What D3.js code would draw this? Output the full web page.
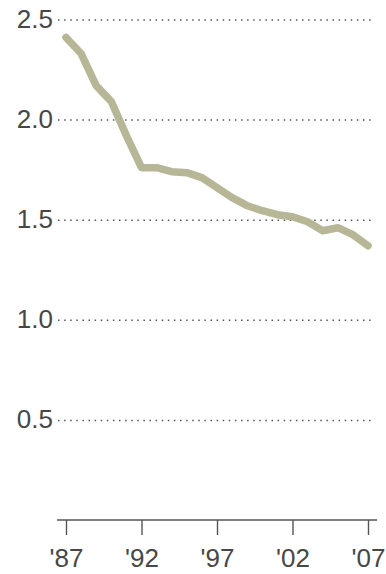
<!DOCTYPE html>
<html>
<head>
  <script src="https://cdn.jsdelivr.net/npm/d3@7"></script>
  <style>
    body { margin: 0; background: #fff; }
  </style>
</head>
<body>
  <svg width="386" height="574" id="mainsvg"></svg>
  <script>
    // data
    const years = [1987, 1988, 1989, 1990, 1991, 1992, 1993, 1994, 1995, 1996, 1997,
                   1998, 1999, 2000, 2001, 2002, 2003, 2004, 2005, 2006, 2007];
    const values = [2.41, 2.33, 2.17, 2.09, 1.92, 1.76, 1.76, 1.74, 1.735, 1.71, 1.66,
                    1.61, 1.57, 1.545, 1.525, 1.515, 1.49, 1.445, 1.46, 1.425, 1.37];
    const yTicks = [0.5, 1.0, 1.5, 2.0, 2.5];
    const xTicks = [1987, 1992, 1997, 2002, 2007];

    const svg = d3.select('#mainsvg');
    const font = 'Liberation Sans, Arial, Helvetica, sans-serif';

    const xScale = d3.scaleLinear().domain([1987, 2007]).range([66, 368]);
    const yScale = d3.scaleLinear().domain([0, 2.5]).range([520, 19.5]);

    // dotted grid lines
    const yAxis = d3.axisLeft(yScale)
      .tickValues(yTicks)
      .tickFormat(d3.format('.1f'))
      .tickSize(-(371 - 58))
      .tickPadding(5);
    const yg = svg.append('g')
      .attr('transform', 'translate(58,0)')
      .call(yAxis);
    yg.select('.domain').remove();
    yg.selectAll('.tick line')
      .attr('stroke', '#555')
      .attr('stroke-width', 1.5)
      .attr('stroke-dasharray', '1.5,4.6');
    yg.selectAll('.tick text')
      .attr('font-family', font)
      .attr('font-size', 26)
      .attr('dy', '0.3em')
      .attr('fill', '#474747');

    // line
    const line = d3.line()
      .x((d, i) => xScale(years[i]))
      .y(d => yScale(d));
    svg.append('path')
      .datum(values)
      .attr('d', line)
      .attr('fill', 'none')
      .attr('stroke', '#b7b797')
      .attr('stroke-width', 7.5)
      .attr('stroke-linejoin', 'round')
      .attr('stroke-linecap', 'round');

    // x axis
    const xAxis = d3.axisBottom(xScale)
      .tickValues(xTicks)
      .tickFormat(d => "'" + String(d).slice(2))
      .tickSizeInner(15)
      .tickSizeOuter(0)
      .tickPadding(14);
    const xg = svg.append('g')
      .attr('transform', 'translate(0,520)')
      .call(xAxis);
    xg.select('.domain')
      .attr('d', 'M57,0H377')
      .attr('stroke', '#555')
      .attr('stroke-width', 1.6);
    xg.selectAll('.tick line')
      .attr('stroke', '#555')
      .attr('stroke-width', 1.4);
    xg.selectAll('.tick text')
      .attr('font-family', font)
      .attr('font-size', 26)
      .attr('fill', '#474747');
  </script>
</body>
</html>
